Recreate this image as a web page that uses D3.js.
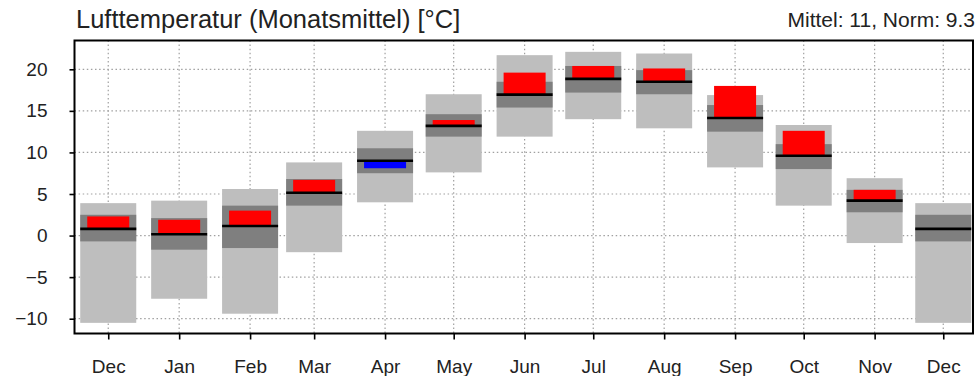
<!DOCTYPE html>
<html>
<head>
<meta charset="utf-8">
<script src="https://cdn.jsdelivr.net/npm/d3@7"></script>
<style>
  html, body { margin: 0; padding: 0; background: #fff; }
  svg { display: block; font-family: "Liberation Sans", Arial, sans-serif; }
</style>
</head>
<body>
<svg id="chart" width="979" height="376"></svg>
<script>
// ---- data ----
const months    = ["Dec","Jan","Feb","Mar","Apr","May","Jun","Jul","Aug","Sep","Oct","Nov","Dec"];
const rangeLow  = [-10.5, -7.6, -9.4, -2.0, 4.0, 7.6, 11.9, 14.0, 12.9, 8.2, 3.6, -0.9, -10.5];
const rangeHigh = [3.9, 4.2, 5.6, 8.8, 12.6, 17.0, 21.7, 22.1, 21.9, 16.9, 13.3, 6.9, 3.9];
const bandLow   = [-0.7, -1.7, -1.5, 3.6, 7.5, 11.9, 15.4, 17.2, 17.0, 12.5, 8.0, 2.8, -0.7];
const bandHigh  = [2.5, 2.1, 3.6, 6.8, 10.5, 14.6, 18.5, 20.4, 19.9, 15.7, 11.0, 5.5, 2.5];
const norm      = [0.8, 0.15, 1.15, 5.15, 9.0, 13.2, 16.95, 18.85, 18.5, 14.15, 9.6, 4.2, 0.8];
const actual    = [2.3, 1.9, 3.0, 6.7, 8.1, 13.9, 19.6, 20.4, 20.1, 18.0, 12.6, 5.5, null];
const yTicks    = [-10, -5, 0, 5, 10, 15, 20];
const titleText = "Lufttemperatur (Monatsmittel) [°C]";
const subText   = "Mittel: 11, Norm: 9.3";

// ---- layout ----
const svg = d3.select("#chart");
const L = 74.5, R = 973, T = 40.5, B = 333.5;
const dates = months.map((m, i) => new Date(2022, 11 + i, 15));

const x = d3.scaleTime()
  .domain([new Date(2022, 10, 30, 6), new Date(2023, 11, 28)])
  .range([L, R]);
const y = d3.scaleLinear().domain([-10, 20]).range([318.7, 69.3]);

const boxW = 56, barW = 42;
const ink = "#222";

// grid
const grid = svg.append("g").attr("stroke", "#a0a0a0").attr("stroke-width", 1.2)
  .attr("stroke-dasharray", "1.5,2.6");
grid.selectAll("line.v").data(dates).join("line").attr("class", "v")
  .attr("x1", d => x(d)).attr("x2", d => x(d)).attr("y1", T).attr("y2", B);
grid.selectAll("line.h").data(yTicks).join("line").attr("class", "h")
  .attr("x1", L).attr("x2", R).attr("y1", d => y(d)).attr("y2", d => y(d));

const idx = d3.range(months.length);

// light grey range boxes
svg.append("g").selectAll("rect").data(idx).join("rect")
  .attr("x", i => x(dates[i]) - boxW / 2).attr("width", boxW)
  .attr("y", i => y(rangeHigh[i])).attr("height", i => y(rangeLow[i]) - y(rangeHigh[i]))
  .attr("fill", "#bebebe");

// dark grey bands
svg.append("g").selectAll("rect").data(idx).join("rect")
  .attr("x", i => x(dates[i]) - boxW / 2).attr("width", boxW)
  .attr("y", i => y(bandHigh[i])).attr("height", i => y(bandLow[i]) - y(bandHigh[i]))
  .attr("fill", "#7f7f7f");

// anomaly bars
svg.append("g").selectAll("rect").data(idx.filter(i => actual[i] != null)).join("rect")
  .attr("x", i => x(dates[i]) - barW / 2).attr("width", barW)
  .attr("y", i => y(Math.max(actual[i], norm[i])))
  .attr("height", i => Math.abs(y(actual[i]) - y(norm[i])))
  .attr("fill", i => actual[i] >= norm[i] ? "#ff0000" : "#0000ff");

// norm lines
svg.append("g").selectAll("line").data(idx).join("line")
  .attr("x1", i => x(dates[i]) - boxW / 2).attr("x2", i => x(dates[i]) + boxW / 2)
  .attr("y1", i => y(norm[i])).attr("y2", i => y(norm[i]))
  .attr("stroke", "#000").attr("stroke-width", 2.6);

// frame
svg.append("rect").attr("x", L).attr("y", T).attr("width", R - L).attr("height", B - T)
  .attr("fill", "none").attr("stroke", "#000").attr("stroke-width", 2);

// y axis
const yAxis = d3.axisLeft(y).tickValues(yTicks).tickSize(5).tickPadding(22)
  .tickFormat(d => d < 0 ? "\u2212" + Math.abs(d) : String(d));
const gy = svg.append("g").attr("transform", `translate(${L},0)`).call(yAxis);
gy.select(".domain").remove();
gy.selectAll(".tick line").attr("stroke", "#000").attr("stroke-width", 1.6);
gy.selectAll(".tick text").attr("fill", ink).attr("font-size", 19)
  .attr("font-family", "Liberation Sans, Arial, sans-serif");

// x axis
const xAxis = d3.axisBottom(x).tickValues(dates).tickSize(6).tickPadding(20)
  .tickFormat((d, i) => months[i]);
const gx = svg.append("g").attr("transform", `translate(0,${B})`).call(xAxis);
gx.select(".domain").remove();
gx.selectAll(".tick line").attr("stroke", "#000").attr("stroke-width", 1.6);
gx.selectAll(".tick text").attr("fill", ink).attr("font-size", 19)
  .attr("font-family", "Liberation Sans, Arial, sans-serif");

// titles
svg.append("text").attr("x", 76).attr("y", 28).attr("font-size", 25.5).attr("fill", ink)
  .text(titleText);
svg.append("text").attr("x", 975).attr("y", 27).attr("text-anchor", "end")
  .attr("font-size", 21).attr("fill", ink).text(subText);
</script>
</body>
</html>
